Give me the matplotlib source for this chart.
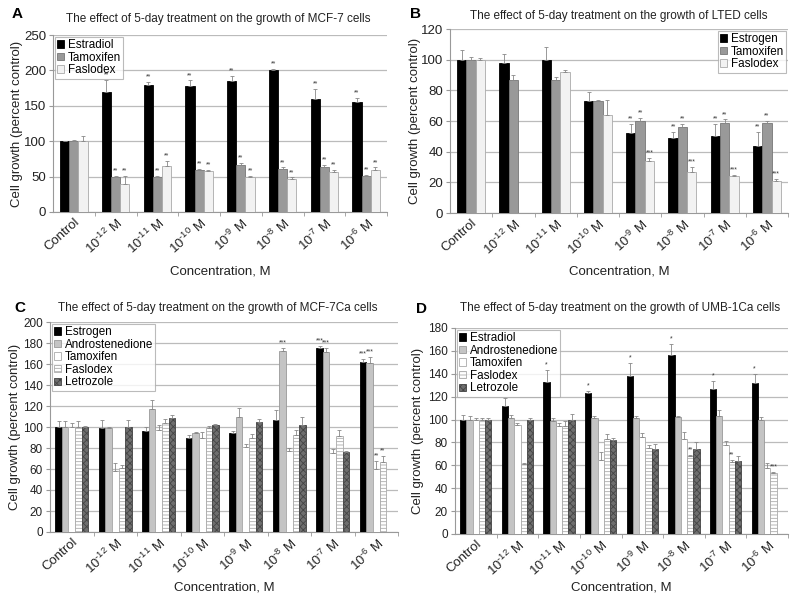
import numpy as np
import matplotlib
matplotlib.use("Agg")
import matplotlib.pyplot as plt

plt.rcParams['font.family'] = ['Liberation Sans', 'DejaVu Sans']
plt.rcParams['mathtext.fontset'] = 'custom'
plt.rcParams['mathtext.rm'] = 'Liberation Sans'
plt.rcParams['mathtext.it'] = 'Liberation Sans:italic'
plt.rcParams['mathtext.bf'] = 'Liberation Sans:bold'
plt.rcParams['hatch.linewidth'] = 0.6

groups = ["Control", r"10$^{\text{-12}}$ M", r"10$^{\text{-11}}$ M",
          r"10$^{\text{-10}}$ M", r"10$^{\text{-9}}$ M", r"10$^{\text{-8}}$ M",
          r"10$^{\text{-7}}$ M", r"10$^{\text{-6}}$ M"]

# Panel A: MCF-7
a_series = ["Estradiol", "Tamoxifen", "Faslodex"]
a_vals = [[100, 170, 180, 178, 185, 200, 160, 155],
          [100, 49, 49, 59, 67, 61, 64, 51],
          [100, 40, 65, 58, 49, 47, 57, 59]]
a_err = [[0, 17, 4, 8, 7, 2, 14, 6],
         [2, 2, 2, 2, 2, 2, 3, 1],
         [7, 11, 7, 2, 2, 2, 3, 4]]
a_sig = [["", "**", "**", "**", "**", "**", "**", "**"],
         ["", "**", "**", "**", "**", "**", "**", "**"],
         ["", "**", "**", "**", "**", "**", "**", "**"]]

# Panel B: LTED
b_series = ["Estrogen", "Tamoxifen", "Faslodex"]
b_vals = [[100, 98, 100, 73, 52, 49, 50, 44],
          [100, 87, 87, 73, 60, 56, 59, 59],
          [100, np.nan, 92, 64, 34, 27, 24, 21]]
b_err = [[6, 6, 8, 6, 6, 4, 8, 9],
         [2, 3, 2, 1, 2, 2, 2, 1],
         [1, 0, 1, 10, 2, 3, 1, 1]]
b_sig = [["", "", "", "", "**", "**", "**", "**"],
         ["", "", "", "", "**", "**", "**", "**"],
         ["", "", "", "", "***", "***", "***", "***"]]

# Panel C: MCF-7Ca
c_series = ["Estrogen", "Androstenedione", "Tamoxifen", "Faslodex", "Letrozole"]
c_vals = [[100, 99, 96, 90, 94, 107, 175, 162],
          [100, 99, 117, 94, 110, 172, 171, 161],
          [100, 58, 97, 90, 81, 77, 75, 60],
          [100, 61, 104, 99, 90, 92, 91, 67],
          [100, 100, 109, 102, 105, 102, 76, np.nan]]
c_err = [[6, 8, 4, 2, 2, 9, 2, 3],
         [6, 1, 9, 1, 8, 3, 4, 6],
         [4, 8, 5, 5, 3, 3, 4, 8],
         [6, 3, 4, 2, 3, 5, 6, 5],
         [1, 7, 2, 1, 3, 8, 1, 0]]
c_sig = [["", "", "", "", "", "", "***", "***"],
         ["", "", "", "", "", "***", "***", "***"],
         ["", "", "", "", "", "", "", "**"],
         ["", "", "", "", "", "", "", "**"],
         ["", "", "", "", "", "", "", ""]]

# Panel D: UMB-1Ca
d_series = ["Estradiol", "Androstenedione", "Tamoxifen", "Faslodex", "Letrozole"]
d_vals = [[100, 112, 133, 123, 138, 156, 127, 132],
          [100, 101, 99, 101, 101, 102, 103, 100],
          [100, 95, 94, 65, 85, 83, 78, 58],
          [100, 61, 94, 83, 75, 68, 63, 53],
          [100, 100, 100, 82, 74, 74, 64, np.nan]]
d_err = [[4, 7, 10, 2, 11, 10, 7, 8],
         [3, 3, 2, 2, 2, 1, 5, 2],
         [1, 2, 3, 7, 3, 6, 3, 4],
         [1, 1, 5, 4, 3, 1, 2, 1],
         [1, 1, 5, 2, 5, 6, 4, 0]]
d_sig = [["", "", "*", "*", "*", "*", "*", "*"],
         ["", "", "", "", "", "", "", ""],
         ["", "", "", "", "", "", "", ""],
         ["", "", "", "", "", "**", "**", "***"],
         ["", "", "", "", "", "", "", ""]]

styles3 = [dict(color="black", edgecolor="black"),
           dict(color="#999999", edgecolor="#777777"),
           dict(color="#f2f2f2", edgecolor="#aaaaaa")]
styles5 = [dict(color="black", edgecolor="black"),
           dict(color="#c4c4c4", edgecolor="#999999"),
           dict(color="white", edgecolor="#aaaaaa"),
           dict(color="white", edgecolor="#aaaaaa", hatch="-----"),
           dict(color="#6e6e6e", edgecolor="#444444", hatch="xxxxx")]

W, H = 800, 600
fig = plt.figure(figsize=(8, 6), dpi=100)


def px_rect(l, t, r, b):
    return [l / W, 1 - b / H, (r - l) / W, (b - t) / H]


def panel(box, letter, letter_xy, title, title_xy, series, vals, errs, sigs,
          styles, ymax, ystep, legend_loc, legend_anchor, bw, xlab_y, ylab_x,
          yfs):
    l, t, r, b = box
    ax = fig.add_axes(px_rect(l, t, r, b))
    n = len(series)
    x = np.arange(len(groups))
    offs = (np.arange(n) - (n - 1) / 2) * bw
    for i in range(n):
        st = dict(styles[i])
        ax.bar(x + offs[i], vals[i], bw, label=series[i], linewidth=0.6,
               zorder=3, **st)
        v = np.array(vals[i], dtype=float)
        e = np.array(errs[i], dtype=float)
        ax.errorbar(x + offs[i], v, yerr=[np.zeros_like(e), e], fmt="none",
                    ecolor="#888888", elinewidth=0.6, capsize=1.2,
                    capthick=0.6, zorder=4)
        for j in range(len(groups)):
            if sigs[i][j] and not np.isnan(v[j]):
                ax.text(x[j] + offs[i], v[j] + e[j] + ymax * 0.008, sigs[i][j],
                        ha="center", va="bottom", fontsize=5,
                        color="#333333", zorder=5)
    ax.set_xlim(-0.5, len(groups) - 0.5)
    ax.set_ylim(0, ymax)
    ax.set_yticks(np.arange(0, ymax + 1, ystep))
    ax.yaxis.grid(True, color="#bbbbbb", linewidth=0.9, zorder=0)
    ax.set_axisbelow(True)
    for s in ["top", "right"]:
        ax.spines[s].set_visible(False)
    ax.spines["left"].set_color("#999999")
    ax.spines["bottom"].set_color("#999999")
    ax.tick_params(axis="y", colors="#999999", labelcolor="#222222",
                   labelsize=yfs, length=3, pad=2)
    ax.tick_params(axis="x", colors="#999999", labelcolor="#222222",
                   labelsize=9.5, length=0, pad=3)
    ax.set_xticks(np.arange(len(groups)) + 0.5, minor=True)
    ax.tick_params(axis="x", which="minor", length=3, colors="#999999")
    ax.set_xticks(x)
    ax.set_xticklabels(groups, rotation=42, ha="right",
                       rotation_mode="anchor")
    ax.set_ylabel("Cell growth (percent control)", fontsize=9.5,
                  color="#222222")
    ax.yaxis.set_label_coords((ylab_x - l) / (r - l), 0.5)
    ax.yaxis.label.set_va("center")
    ax.set_xlabel("Concentration, M", fontsize=9.5, color="#222222")
    ax.xaxis.set_label_coords(0.5, -(xlab_y - b) / (b - t))
    ax.xaxis.label.set_va("center")
    fig.text(letter_xy[0] / W, 1 - letter_xy[1] / H, letter, fontsize=11,
             fontweight="bold", ha="left", va="center")
    fig.text(title_xy[0] / W, 1 - title_xy[1] / H, title, fontsize=8.5,
             color="#222222", ha="center", va="center")
    leg = ax.legend(loc=legend_loc, bbox_to_anchor=legend_anchor,
                    fontsize=8.4, handlelength=0.6, handleheight=0.6,
                    handletextpad=0.3, borderpad=0.2, labelspacing=0.05,
                    frameon=True, fancybox=False, borderaxespad=0.15)
    leg.get_frame().set_edgecolor("#aaaaaa")
    leg.get_frame().set_linewidth(0.8)
    leg.set_zorder(2.5)
    return ax


panel((53, 35, 387, 212), "A", (12, 14),
      "The effect of 5-day treatment on the growth of MCF-7 cells", (218, 19),
      a_series, a_vals, a_err, a_sig, styles3, 250, 50,
      "upper left", (0.0, 1.0), 0.22, 272, 17, 9.5)
panel((450, 29, 788, 213), "B", (410, 14),
      "The effect of 5-day treatment on the growth of LTED cells", (619, 16),
      b_series, b_vals, b_err, b_sig, styles3, 120, 20,
      "upper right", (1.0, 1.0), 0.22, 272, 415, 9.5)
panel((50, 322, 398, 532), "C", (14, 308),
      "The effect of 5-day treatment on the growth of MCF-7Ca cells", (218, 308),
      c_series, c_vals, c_err, c_sig, styles5, 200, 20,
      "upper left", (0.0, 1.0), 0.15, 587, 15, 8.5)
panel((455, 328, 788, 534), "D", (416, 309),
      "The effect of 5-day treatment on the growth of UMB-1Ca cells", (620, 308),
      d_series, d_vals, d_err, d_sig, styles5, 180, 20,
      "upper left", (0.0, 1.0), 0.15, 587, 418, 8.5)

fig.savefig("out.png", dpi=100)
